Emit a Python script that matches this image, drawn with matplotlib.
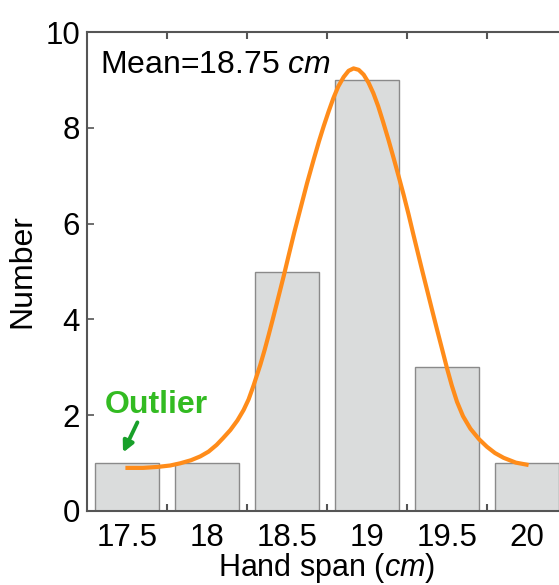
import matplotlib
matplotlib.use("Agg")
import matplotlib.pyplot as plt

plt.rcParams["font.family"] = ["Liberation Sans", "DejaVu Sans"]
plt.rcParams["mathtext.fontset"] = "custom"
plt.rcParams["mathtext.rm"] = "Liberation Sans"
plt.rcParams["mathtext.it"] = "Liberation Sans:italic"

# histogram of hand spans
spans = [17.5, 18, 18.5, 19, 19.5, 20]
counts = [1, 1, 5, 9, 3, 1]
span_labels = ["17.5", "18", "18.5", "19", "19.5", "20"]

# fitted curve
fit_x = [17.49, 17.60, 17.69, 17.77, 17.833, 17.90, 17.958, 18.01, 18.06, 18.10,
         18.146, 18.19, 18.229, 18.26, 18.291, 18.333, 18.36, 18.385, 18.41, 18.4375,
         18.479, 18.51, 18.545, 18.583, 18.625, 18.667, 18.70, 18.729, 18.76, 18.79,
         18.82, 18.854, 18.885, 18.916, 18.948, 18.979, 19.01, 19.04, 19.07, 19.10,
         19.135, 19.167, 19.20, 19.229, 19.26, 19.29, 19.32, 19.345, 19.375, 19.405,
         19.4375, 19.47, 19.50, 19.53, 19.5625, 19.60, 19.646, 19.70, 19.75, 19.80,
         19.854, 19.93, 20.01]
fit_y = [0.90, 0.90, 0.92, 0.95, 0.996, 1.06, 1.14, 1.24, 1.38, 1.52,
         1.69, 1.89, 2.11, 2.33, 2.62, 3.05, 3.36, 3.67, 3.99, 4.35,
         4.90, 5.33, 5.81, 6.30, 6.84, 7.34, 7.72, 8.03, 8.34, 8.62,
         8.86, 9.06, 9.19, 9.24, 9.21, 9.11, 8.94, 8.72, 8.45, 8.13,
         7.74, 7.36, 6.96, 6.60, 6.19, 5.77, 5.36, 5.02, 4.62, 4.22,
         3.79, 3.37, 2.98, 2.62, 2.28, 1.98, 1.72, 1.50, 1.34, 1.21,
         1.11, 1.01, 0.96]

fig = plt.figure(figsize=(5.59, 5.85), dpi=100)
ax = fig.add_axes([87 / 559, 74 / 585, 480 / 559, 479 / 585])

ax.bar(spans, counts, width=0.4, color="#dadcdc", edgecolor="#8a8a8a", linewidth=1.0, zorder=2)
ax.plot(fit_x, fit_y, color="#ff8c1a", linewidth=3.0, solid_capstyle="butt",
        solid_joinstyle="round", zorder=3)

ax.set_xlim(17.25, 20.25)
ax.set_ylim(0, 10)

ax.set_xticks(spans)
ax.set_xticklabels(span_labels)
ax.set_xticks([17.75, 18.25, 18.75, 19.25, 19.75], minor=True)
ax.tick_params(axis="x", which="major", length=0, labelsize=22.5, pad=9)
ax.tick_params(axis="x", which="minor", direction="in", length=5, width=1.5,
               color="#555555", top=True, bottom=True)
ax.set_yticks([0, 2, 4, 6, 8, 10])
ax.tick_params(axis="y", direction="in", length=5, width=1.2, color="#555555",
               labelsize=22.5, pad=5)

for s in ax.spines.values():
    s.set_color("#555555")
    s.set_linewidth(1.5)

ax.set_xlabel(r"Hand span ($\mathit{cm}$)", fontsize=22, labelpad=-2)
ax.set_ylabel("Number", fontsize=23, labelpad=6)

ax.text(17.33, 9.14, r"Mean=18.75 $\mathit{cm}$", fontsize=23, va="baseline", ha="left")
ax.text(17.36, 2.05, "Outlier", fontsize=23, fontweight="bold", color="#33bb22",
        va="baseline", ha="left")
ax.annotate("", xy=(17.475, 1.22), xytext=(17.565, 1.85),
            arrowprops=dict(arrowstyle="-|>", color="#18a02a", lw=2.8,
                            mutation_scale=16, shrinkA=0, shrinkB=0))

fig.savefig("out.png", dpi=100)
